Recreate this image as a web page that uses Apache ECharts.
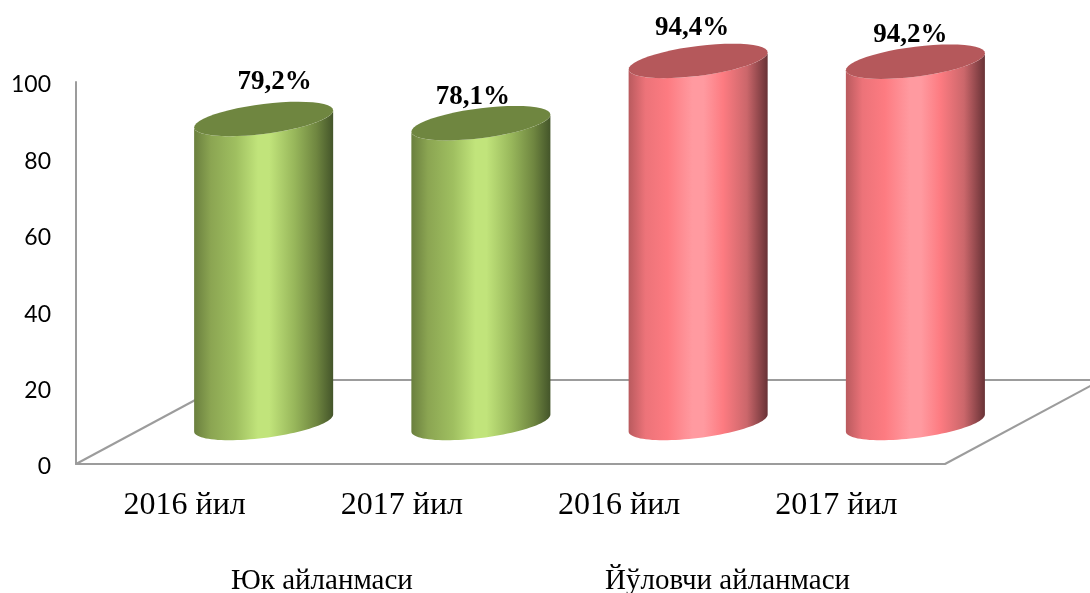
<!DOCTYPE html>
<html>
<head>
<meta charset="utf-8">
<style>html,body{margin:0;padding:0;background:#fff}#c{width:1090px;height:593px}</style>
<script src="https://cdn.jsdelivr.net/npm/echarts@6/dist/echarts.min.js"></script>
</head>
<body>
<div id="c"></div>
<script>
const categories = ['2016 йил', '2017 йил', '2016 йил', '2017 йил'];
const values = [79.2, 78.1, 94.4, 94.2];
const valueLabels = ['79,2%', '78,1%', '94,4%', '94,2%'];
const groupLabels = ['Юк айланмаси', 'Йўловчи айланмаси'];
const yTicks = [0, 20, 40, 60, 80, 100];

const labelNudge = [[11, -37], [-8, -26], [-6, -33], [-5, -26.5]];
const GREEN = { top: '#6f8640', stops: [[0, '#6a7f3e'], [0.12, '#8ba552'], [0.3, '#9fbf60'], [0.46, '#c1e47b'], [0.54, '#c1e47b'], [0.72, '#98b75b'], [0.88, '#6f8640'], [1, '#44552a']] };
const RED = { top: '#b5585b', stops: [[0, '#b95a5e'], [0.12, '#ec7379'], [0.28, '#fd7b81'], [0.46, '#ff9aa0'], [0.54, '#ff9aa0'], [0.68, '#fd7b81'], [0.85, '#cb676b'], [1, '#683236']] };
const palettes = [GREEN, GREEN, RED, RED];

function ring(cx, cy, a, b, s, from, to) {
  const pts = [];
  for (let i = 0; i <= 48; i++) {
    const t = from + (to - from) * i / 48;
    pts.push([cx + a * Math.cos(t), cy - s * Math.cos(t) + b * Math.sin(t)]);
  }
  return pts;
}

function renderCylinder(params, api) {
  const i = api.value(0);
  const v = api.value(1);
  const band = api.size([1, 0])[0];
  const p = api.coord([i, v]);
  const zero = api.coord([i, 0]);
  const cx = p[0] + band * 0.3637;
  const a = band * 0.32, b = 15, s = 8.5;
  const topY = p[1] - 42.5, baseY = zero[1] - 41;
  const pal = palettes[i];
  const upperBack = ring(cx, topY, a, b, s, Math.PI, 0);
  const lowerFront = ring(cx, baseY, a, b, s, 0, Math.PI);
  const nudge = labelNudge[i];
  return {
    type: 'group',
    children: [
      {
        type: 'polygon',
        shape: { points: upperBack.concat(lowerFront) },
        style: {
          fill: new echarts.graphic.LinearGradient(0, 0, 1, 0,
            pal.stops.map(function (d) { return { offset: d[0], color: d[1] }; }))
        }
      },
      {
        type: 'polygon',
        shape: { points: ring(cx, topY, a, b, s, 0, Math.PI * 2) },
        style: { fill: pal.top }
      },
      {
        type: 'text',
        style: {
          text: valueLabels[i],
          x: cx + nudge[0], y: topY + nudge[1],
          align: 'center', verticalAlign: 'middle',
          font: 'bold 27px "Liberation Serif"', fill: '#000'
        }
      }
    ]
  };
}

function renderFloor(params, api) {
  const band = api.size([1, 0])[0];
  const first = api.coord([0, 0]);
  const last = api.coord([categories.length - 1, 0]);
  const x0 = first[0] - band / 2, x1 = last[0] + band / 2, y0 = first[1];
  const dx = 156.5, dy = 84;
  const style = { stroke: '#9c9c9c', lineWidth: 2, fill: null };
  return {
    type: 'group',
    children: [
      { type: 'line', shape: { x1: x0, y1: y0, x2: x0 + dx, y2: y0 - dy }, style: style },
      { type: 'line', shape: { x1: x0 + dx, y1: y0 - dy, x2: x1 + dx, y2: y0 - dy }, style: style },
      { type: 'line', shape: { x1: x1, y1: y0, x2: x1 + dx, y2: y0 - dy }, style: style }
    ]
  };
}

const chart = echarts.init(document.getElementById('c'), null, { renderer: 'canvas' });
chart.setOption({
  animation: false,
  backgroundColor: '#fff',
  grid: { left: 76, top: 82, width: 869, height: 382 },
  xAxis: {
    type: 'category',
    data: categories,
    axisLine: { lineStyle: { color: '#9c9c9c', width: 2 } },
    axisTick: { show: false },
    axisLabel: { color: '#000', fontFamily: 'Liberation Serif', fontSize: 32, margin: 26, interval: 0 }
  },
  yAxis: {
    type: 'value',
    min: yTicks[0],
    max: yTicks[yTicks.length - 1],
    interval: yTicks[1] - yTicks[0],
    splitLine: { show: false },
    axisLine: { show: true, lineStyle: { color: '#9c9c9c', width: 2 } },
    axisTick: { show: false },
    axisLabel: { color: '#000', fontFamily: 'Lato', fontSize: 23, margin: 25, verticalAlign: 'top', lineHeight: 6 }
  },
  graphic: [
    { type: 'text', left: 231, top: 567, style: { text: groupLabels[0], font: '29px "Liberation Serif"', fill: '#000' } },
    { type: 'text', left: 605, top: 567, style: { text: groupLabels[1], font: '29px "Liberation Serif"', fill: '#000' } }
  ],
  series: [
    { type: 'custom', name: 'floor', silent: true, clip: false, renderItem: renderFloor, data: [[0, 0]], z: 1, encode: { x: 0, y: 1 } },
    { type: 'custom', name: 'values', silent: true, clip: false, renderItem: renderCylinder, z: 2,
      data: values.map(function (v, i) { return [i, v]; }), encode: { x: 0, y: 1 } }
  ]
});
</script>
</body>
</html>
